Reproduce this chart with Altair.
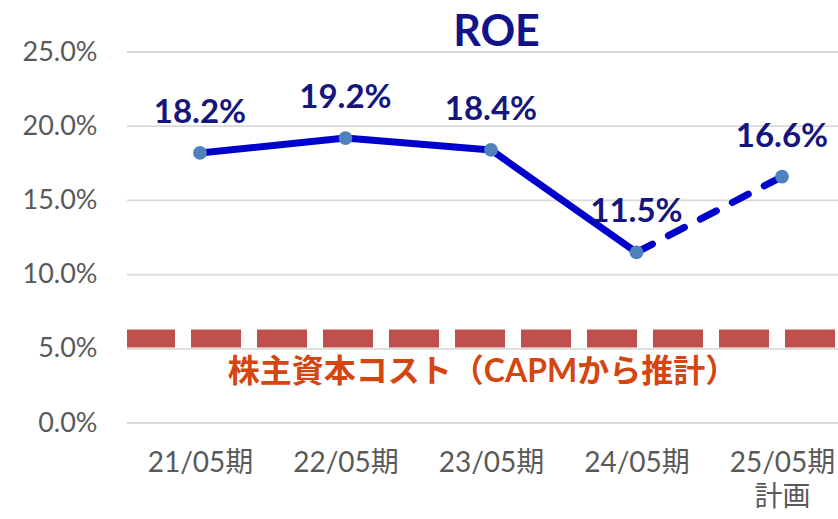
import altair as alt
import pandas as pd

periods = ["21/05期", "22/05期", "23/05期", "24/05期", "25/05期\n計画"]
roe = [18.2, 19.2, 18.4, 11.5, 16.6]
roe_labels = ["18.2%", "19.2%", "18.4%", "11.5%", "16.6%"]
actual_flags = [True, True, True, True, False]
capm_cost = [5.7]
capm_text = ["株主資本コスト（CAPMから推計）"]
y_ticks = [0, 5, 10, 15, 20, 25]

FONT = "Lato, 'Noto Sans CJK JP', sans-serif"

df = pd.DataFrame({"period": periods, "roe": roe, "label": roe_labels, "actual": actual_flags})
df_solid = df[df["actual"]]
# dashed segment: last actual point to the plan point
df_dash = df.iloc[3:]
df_capm = pd.DataFrame({"cost": capm_cost, "text": capm_text})
df_grid = pd.DataFrame({"tick": y_ticks})

W, H = 711, 371

x_enc = alt.X(
    "period:O",
    sort=periods,
    scale=alt.Scale(type="point", range=[73, 655], padding=0),
    axis=alt.Axis(
        title=None,
        labelExpr="split(datum.label, '\\n')",
        labelAngle=0,
        labelFont=FONT,
        labelFontSize=28,
        labelColor="#595959",
        labelPadding=26,
        labelLineHeight=34,
        ticks=False,
        domain=False,
        grid=False,
    ),
)
y_scale = alt.Scale(domain=[0, 25], nice=False, zero=True)
y_axis = alt.Axis(
    title=None,
    values=y_ticks,
    labelExpr="format(datum.value, '.1f') + '%'",
    labelFont=FONT,
    labelFontSize=27,
    labelColor="#595959",
    labelPadding=30,
    ticks=False,
    domain=False,
    grid=False,
)
y_enc = alt.Y("roe:Q", scale=y_scale, axis=y_axis, title=None)

base = alt.Chart(df)

gridlines = alt.Chart(df_grid).mark_rule(color="#D9D9D9", strokeWidth=1.8).encode(
    y=alt.Y("tick:Q", scale=y_scale, axis=y_axis, title=None)
)

anchor = base.mark_point(opacity=0).encode(x=x_enc, y=y_enc)

capm_rule = alt.Chart(df_capm).mark_rule(
    color="#C0504D", strokeWidth=18, strokeDash=[50, 16], strokeDashOffset=-3
).encode(y=alt.Y("cost:Q", scale=y_scale, axis=y_axis, title=None))

capm_label = alt.Chart(df_capm).mark_text(
    font=FONT, fontSize=32, fontWeight="bold", color="#D5450F",
    baseline="middle", align="center", dy=34,
).encode(y=alt.Y("cost:Q", scale=y_scale, axis=y_axis, title=None), x=alt.value(W / 2), text="text:N")

line_solid = alt.Chart(df_solid).mark_line(
    color="#0000CC", strokeWidth=7, strokeCap="round", strokeJoin="round"
).encode(x=x_enc, y=y_enc)

line_dash = alt.Chart(df_dash).mark_line(
    color="#0000CC", strokeWidth=7, strokeCap="round", strokeDash=[18, 18]
).encode(x=x_enc, y=y_enc)

points = base.mark_circle(size=190, color="#4F81BD", opacity=1).encode(x=x_enc, y=y_enc)

labels = base.mark_text(
    font=FONT, fontSize=33, fontWeight="bold", color="#15157E",
    baseline="middle", align="center", dy=-40,
).encode(x=x_enc, y=y_enc, text="label:N")

chart = alt.layer(
    gridlines, anchor, capm_rule, capm_label, line_solid, line_dash, points, labels
).properties(
    width=W,
    height=H,
    background="white",
    title=alt.TitleParams(
        "ROE", font=FONT, fontSize=43, fontWeight="bold", color="#12128A",
        anchor="middle", dx=14, dy=21, offset=4,
    ),
    autosize=alt.AutoSizeParams(type="none"),
    padding={"left": 127, "top": 52, "right": 0, "bottom": 96},
).configure_view(stroke=None, strokeWidth=0)

chart.save("out.html", embed_options={"renderer": "svg", "actions": False})
